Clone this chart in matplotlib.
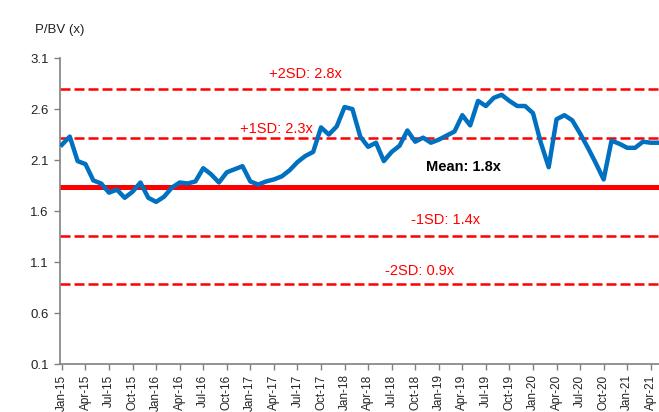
import numpy as np
import matplotlib
matplotlib.use("Agg")
import matplotlib.pyplot as plt

plt.rcParams['font.family'] = ['Liberation Sans', 'DejaVu Sans']

# monthly P/BV, Jan-15 .. May-21
pbv = [2.25, 2.33, 2.09, 2.06, 1.90, 1.87, 1.78, 1.81, 1.73, 1.79, 1.88, 1.73,
       1.69, 1.74, 1.83, 1.88, 1.87, 1.89, 2.02, 1.96, 1.88, 1.98, 2.01, 2.04,
       1.89, 1.86, 1.89, 1.91, 1.94, 2.00, 2.08, 2.14, 2.18, 2.42, 2.35, 2.43,
       2.62, 2.60, 2.33, 2.23, 2.27, 2.09, 2.18, 2.24, 2.39, 2.28, 2.32, 2.27,
       2.30, 2.34, 2.38, 2.54, 2.44, 2.68, 2.63, 2.71, 2.74, 2.68, 2.63, 2.63,
       2.56, 2.27, 2.03, 2.50, 2.54, 2.49, 2.36, 2.22, 2.07, 1.91, 2.29, 2.26,
       2.22, 2.22, 2.28, 2.27, 2.27]
months = ['Jan', 'Apr', 'Jul', 'Oct']
tick_labels = ['%s-%d' % (months[q % 4], 15 + q // 4) for q in range(26)]

mean_val = 1.84
plus1, plus2 = 2.32, 2.80
minus1, minus2 = 1.36, 0.88
band_labels = ['+2SD: 2.8x', '+1SD: 2.3x', 'Mean: 1.8x', '-1SD: 1.4x', '-2SD: 0.9x']

x = np.arange(len(pbv))

fig = plt.figure(figsize=(6.59, 4.12), dpi=100)
ax = fig.add_axes([0.091, 0.1165, 0.909, 0.7425])

dash = (0, (4, 1.6))
for lvl in [plus2, plus1, minus1, minus2]:
    ax.axhline(lvl, color='#ff0000', lw=1.8, linestyle=dash, zorder=2)
ax.axhline(mean_val, color='#ff0000', lw=3.6, zorder=2)
ax.plot(x, pbv, color='#0070C0', lw=3.2, zorder=3, solid_joinstyle='round')

ax.text(31.0, 2.94, band_labels[0], color='#ff0000', fontsize=10.5, ha='center', va='center')
ax.text(27.3, 2.40, band_labels[1], color='#ff0000', fontsize=10.5, ha='center', va='center')
ax.text(51.1, 2.03, band_labels[2], color='black', fontsize=10.5, fontweight='bold',
        ha='center', va='center')
ax.text(48.9, 1.51, band_labels[3], color='#ff0000', fontsize=10.5, ha='center', va='center')
ax.text(45.6, 1.01, band_labels[4], color='#ff0000', fontsize=10.5, ha='center', va='center')

ax.set_xlim(-0.25, 76.05)
ax.set_ylim(0.1, 3.1)
ax.set_yticks(np.arange(0.1, 3.11, 0.5))
ax.set_yticklabels(['%.1f' % v for v in np.arange(0.1, 3.11, 0.5)], fontsize=9.5, color='#222222')
ax.set_xticks(np.arange(0, 77, 3))
ax.set_xticklabels(tick_labels, rotation=90, fontsize=8.5, color='#222222')

for s in ['top', 'right']:
    ax.spines[s].set_visible(False)
for s in ['left', 'bottom']:
    ax.spines[s].set_color('#808080')
    ax.spines[s].set_linewidth(1.2)
ax.tick_params(axis='both', colors='#808080', length=4, width=1, labelcolor='#222222')
ax.tick_params(axis='y', pad=4)

fig.text(35 / 659, 1 - 30 / 412, 'P/BV (x)', fontsize=9.5, color='#222222', ha='left', va='center')

fig.savefig('out.png', dpi=100)
